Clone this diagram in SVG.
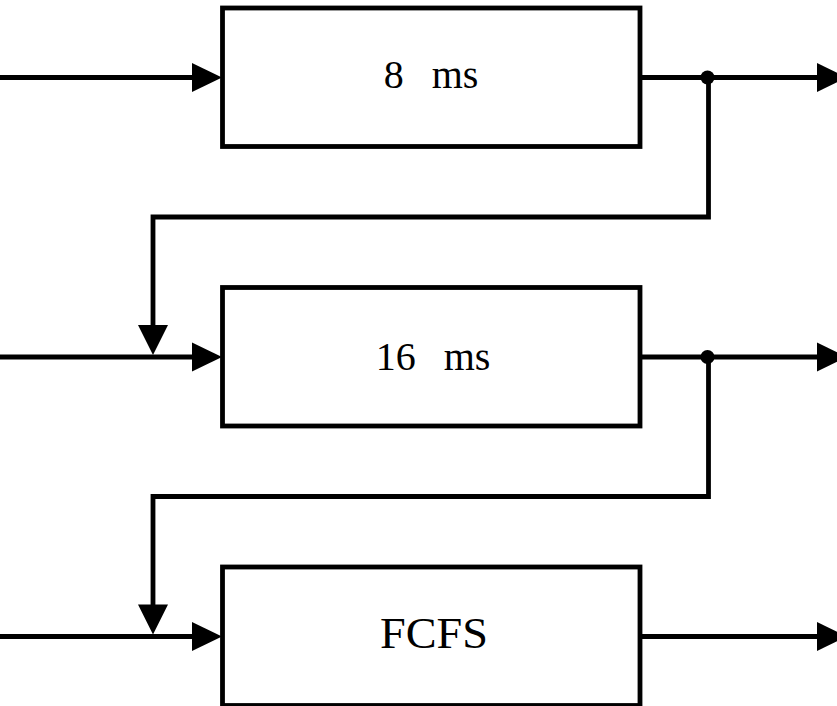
<svg xmlns="http://www.w3.org/2000/svg" width="837" height="706" viewBox="0 0 837 706">
<style>
.box{fill:#fff;stroke:#000;stroke-width:4.8}
.ln{fill:none;stroke:#000;stroke-width:4.8}
.ah{fill:#000;stroke:none}
.lbl{font-family:"Liberation Serif","Times New Roman",serif;font-size:40px;fill:#000;text-anchor:middle;word-spacing:4px}
</style>
<defs>
<path id="ar" d="M-30,-14.5 L0,0 L-30,14.5 Z"/>
<path id="ad" d="M-15,-30 L0,0 L15,-30 Z"/>
</defs>
<rect width="837" height="706" fill="#fff"/>
<g id="connectors">
<path class="ln" d="M0,77.5 H200 M0,357 H200 M0,636.5 H200"/>
<path class="ln" d="M640,77.5 H825 M640,357 H825 M640,636.5 H825"/>
<path class="ln" d="M708.5,77.5 V217 H153 V335"/>
<path class="ln" d="M708.5,357 V496.5 H153 V614"/>
<use href="#ar" class="ah" x="222" y="77.5"/>
<use href="#ar" class="ah" x="222" y="357"/>
<use href="#ar" class="ah" x="222" y="636.5"/>
<use href="#ar" class="ah" x="847" y="77.5"/>
<use href="#ar" class="ah" x="847" y="357"/>
<use href="#ar" class="ah" x="847" y="636.5"/>
<use href="#ad" class="ah" x="153" y="355"/>
<use href="#ad" class="ah" x="153" y="634.5"/>
<circle cx="707.5" cy="77.5" r="7" fill="#000"/>
<circle cx="707.5" cy="357" r="7" fill="#000"/>
</g>
<g id="node1">
<rect class="box" x="222.5" y="8" width="417.5" height="138.5"/>
<text class="lbl" x="431" y="88" xml:space="preserve">8  ms</text>
</g>
<g id="node2">
<rect class="box" x="222.5" y="287.5" width="417.5" height="138.5"/>
<text class="lbl" x="433" y="370" xml:space="preserve">16  ms</text>
</g>
<g id="node3">
<rect class="box" x="222.5" y="567" width="417.5" height="138.5"/>
<text class="lbl" x="434" y="648" style="font-size:44px" textLength="108" lengthAdjust="spacingAndGlyphs">FCFS</text>
</g>
</svg>
